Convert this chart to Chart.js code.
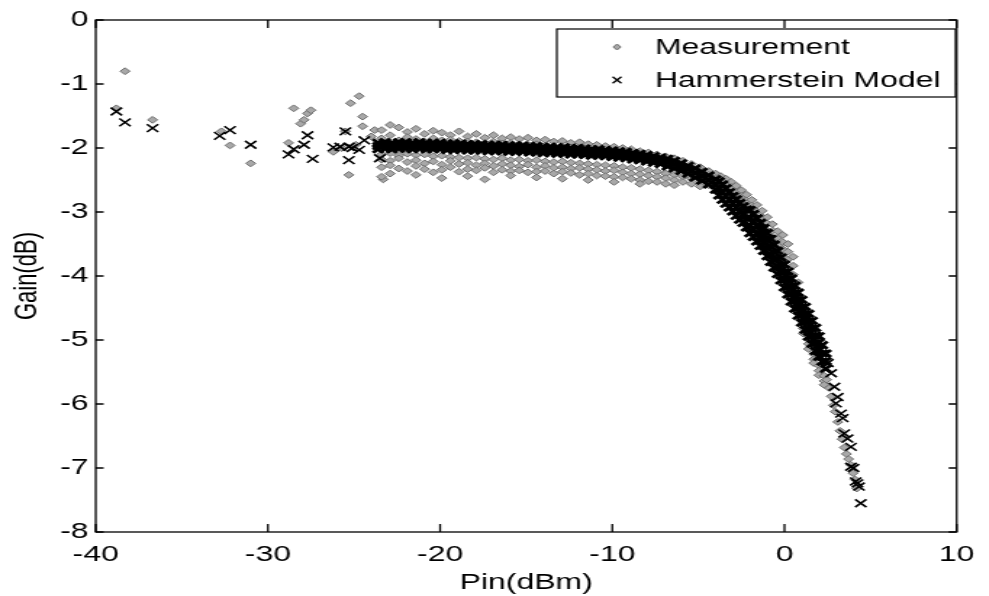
<!DOCTYPE html>
<html>
<head>
<meta charset="utf-8">
<script src="https://cdn.jsdelivr.net/npm/chart.js@4.4.1/dist/chart.umd.min.js"></script>
<style>
  html, body { margin: 0; padding: 0; background: #fff; overflow: hidden; }
  /* the scanned figure is stretched sideways, so the canvas is too */
  #wrap { width: 682px; height: 596px; transform: scaleX(1.45); transform-origin: 0 0; }
</style>
</head>
<body>
<div id="wrap"><canvas id="gainChart" width="682" height="596"></canvas></div>
<script>
// axes
const xTicks = [-40, -30, -20, -10, 0, 10];
const yTicks = [0, -1, -2, -3, -4, -5, -6, -7, -8];
const seriesNames = ['Measurement', 'Hammerstein Model'];

// Measurement: loose points at low input power
const measLooseX = [-38.3, -38.8, -36.7, -32.7, -32.2, -31.0, -28.5, -28.8, -28.1, -27.9, -27.7, -27.5,
  -26.2, -25.5, -25.3, -25.2, -24.7, -24.5, -24.5, -24.0, -23.8, -23.3, -24.9, -25.7];
const measLooseY = [-0.80, -1.38, -1.56, -1.74, -1.96, -2.24, -1.38, -1.92, -1.62, -1.56, -1.46, -1.41,
  -2.06, -1.74, -2.42, -1.30, -1.19, -1.51, -1.66, -1.82, -1.72, -2.49, -1.95, -2.00];

// Measurement: dense band, one column of gains per Pin value
const measBandX = [-23.4, -22.9, -22.4, -21.9, -21.4, -20.9, -20.4, -19.9, -19.4, -18.9, -18.4, -17.9, -17.4,
  -16.9, -16.4, -15.9, -15.4, -14.9, -14.4, -13.9, -13.4, -12.9, -12.4, -11.9, -11.4, -10.9, -10.4, -9.9,
  -9.4, -8.9, -8.4, -7.9, -7.4, -6.9, -6.4, -5.9, -5.4, -4.9, -4.4,
  -4.0, -3.7, -3.4, -3.1, -2.8, -2.5, -2.2, -1.9, -1.6, -1.3, -1.0, -0.7, -0.4, -0.1, 0.2, 0.5, 0.8,
  1.1, 1.4, 1.7, 2.0, 2.3];
const measBandY = [
  [-1.72, -1.85, -2.10, -2.18, -2.30, -2.45], [-1.64, -1.80, -2.08, -2.20, -2.27, -2.40],
  [-1.68, -1.88, -2.12, -2.16, -2.32], [-1.75, -1.83, -2.09, -2.22, -2.36],
  [-1.70, -1.86, -2.11, -2.19, -2.28, -2.42], [-1.78, -1.90, -2.10, -2.24, -2.33],
  [-1.73, -1.85, -2.13, -2.21, -2.38], [-1.76, -1.88, -2.12, -2.26, -2.34, -2.47],
  [-1.80, -1.87, -2.14, -2.20, -2.30], [-1.74, -1.89, -2.15, -2.25, -2.37],
  [-1.82, -1.90, -2.16, -2.23, -2.33, -2.44], [-1.78, -1.91, -2.15, -2.27, -2.35],
  [-1.84, -1.92, -2.17, -2.24, -2.31, -2.49], [-1.80, -1.90, -2.18, -2.28, -2.38],
  [-1.85, -1.93, -2.16, -2.25, -2.34], [-1.83, -1.92, -2.19, -2.27, -2.36, -2.43],
  [-1.86, -1.94, -2.18, -2.29, -2.35], [-1.84, -1.95, -2.20, -2.26, -2.38],
  [-1.88, -1.94, -2.19, -2.30, -2.37, -2.46], [-1.87, -1.96, -2.21, -2.28, -2.36],
  [-1.90, -1.97, -2.22, -2.31, -2.40], [-1.89, -1.97, -2.21, -2.30, -2.37, -2.48],
  [-1.92, -1.99, -2.23, -2.32, -2.39], [-1.91, -2.00, -2.24, -2.31, -2.42],
  [-1.94, -2.01, -2.25, -2.33, -2.40, -2.50], [-1.95, -2.02, -2.26, -2.34, -2.43],
  [-1.97, -2.03, -2.27, -2.36, -2.44], [-1.98, -2.04, -2.28, -2.35, -2.45, -2.53],
  [-2.00, -2.06, -2.30, -2.38, -2.46], [-2.02, -2.08, -2.31, -2.40, -2.48],
  [-2.05, -2.10, -2.33, -2.41, -2.50, -2.56], [-2.07, -2.12, -2.35, -2.43, -2.52],
  [-2.10, -2.15, -2.37, -2.45, -2.53], [-2.13, -2.18, -2.40, -2.47, -2.56],
  [-2.16, -2.22, -2.42, -2.50, -2.58], [-2.20, -2.26, -2.45, -2.53],
  [-2.25, -2.30, -2.48, -2.56], [-2.30, -2.35, -2.52, -2.60], [-2.36, -2.42, -2.58],
  [-2.40, -2.47, -2.55], [-2.44, -2.51, -2.60], [-2.48, -2.56, -2.64], [-2.53, -2.61, -2.70],
  [-2.59, -2.68, -2.77], [-2.66, -2.75, -2.84], [-2.73, -2.82, -2.92], [-2.81, -2.90, -3.00],
  [-2.89, -2.99, -3.09], [-2.98, -3.08, -3.19], [-3.08, -3.18, -3.29], [-3.19, -3.29, -3.40],
  [-3.30, -3.40, -3.52], [-3.36, -3.47, -3.58], [-3.50, -3.62, -3.74], [-3.70, -3.84, -3.98],
  [-4.10, -4.30, -4.45], [-4.72, -4.82, -4.90], [-4.98, -5.06, -5.14], [-5.22, -5.30, -5.36],
  [-5.40, -5.48, -5.55], [-5.56, -5.64, -5.70]
];
// Measurement: high power tail
const measTailX = [2.45, 2.6, 2.72, 2.85, 2.95, 3.1, 3.22, 3.35, 3.48, 3.6, 3.72, 3.85, 3.98, 4.1, 4.2];
const measTailY = [-5.62, -5.75, -5.88, -6.02, -6.12, -6.28, -6.42, -6.55, -6.68, -6.78, -6.86, -6.95, -7.08, -7.18, -7.32];

// Hammerstein model: loose points
const modelLooseX = [-38.8, -38.3, -36.7, -32.8, -32.2, -31.0, -28.8, -28.5, -27.9, -27.7, -27.4, -26.2,
  -25.8, -25.5, -25.3, -25.3, -25.1, -24.7, -24.4, -23.5];
const modelLooseY = [-1.43, -1.60, -1.69, -1.81, -1.72, -1.95, -2.10, -2.02, -1.95, -1.80, -2.17, -1.99,
  -1.98, -1.74, -1.98, -2.19, -2.00, -2.03, -1.88, -2.16];

// Hammerstein model: dense band
const modelBandX = [-23.6, -23.2, -22.8, -22.4, -22.0, -21.6, -21.2, -20.8, -20.4, -20.0, -19.6, -19.2,
  -18.8, -18.4, -18.0, -17.6, -17.2, -16.8, -16.4, -16.0, -15.6, -15.2, -14.8, -14.4, -14.0, -13.6,
  -13.2, -12.8, -12.4, -12.0, -11.6, -11.2, -10.8, -10.4, -10.0, -9.6, -9.2, -8.8, -8.4, -8.0, -7.6,
  -7.2, -6.8, -6.4, -6.0, -5.6, -5.2, -4.8, -4.4, -4.0,
  -3.8, -3.6, -3.4, -3.2, -3.0, -2.8, -2.6, -2.4, -2.2, -2.0, -1.8, -1.6, -1.4, -1.2, -1.0, -0.8,
  -0.6, -0.4, -0.2, 0.0, 0.2, 0.4, 0.6, 0.8, 1.0, 1.2, 1.4, 1.6, 1.8, 2.0, 2.2, 2.4];
const modelBandY = [
  [-1.92, -1.97, -2.02], [-1.91, -1.96, -2.01], [-1.92, -1.97, -2.02], [-1.91, -1.96, -2.01],
  [-1.91, -1.96, -2.01], [-1.92, -1.97, -2.02], [-1.91, -1.96, -2.01], [-1.92, -1.97, -2.02],
  [-1.92, -1.97, -2.02], [-1.92, -1.97, -2.02], [-1.93, -1.98, -2.03], [-1.93, -1.98, -2.03],
  [-1.93, -1.98, -2.03], [-1.94, -1.99, -2.04], [-1.94, -1.99, -2.04], [-1.94, -1.99, -2.04],
  [-1.95, -2.00, -2.05], [-1.95, -2.00, -2.05], [-1.95, -2.00, -2.05], [-1.96, -2.01, -2.06],
  [-1.96, -2.01, -2.06], [-1.96, -2.01, -2.06], [-1.97, -2.02, -2.07], [-1.97, -2.02, -2.07],
  [-1.98, -2.03, -2.08], [-1.98, -2.03, -2.08], [-1.99, -2.04, -2.09], [-1.99, -2.04, -2.09],
  [-2.00, -2.05, -2.10], [-2.00, -2.05, -2.10], [-2.01, -2.06, -2.11], [-2.02, -2.07, -2.12],
  [-2.02, -2.07, -2.12], [-2.03, -2.08, -2.13], [-2.04, -2.09, -2.14], [-2.05, -2.10, -2.15],
  [-2.06, -2.11, -2.16], [-2.08, -2.13, -2.18], [-2.09, -2.14, -2.19], [-2.11, -2.16, -2.21],
  [-2.13, -2.18, -2.23], [-2.15, -2.20, -2.25], [-2.17, -2.23, -2.29], [-2.20, -2.26, -2.32],
  [-2.24, -2.30, -2.36], [-2.28, -2.34, -2.40], [-2.32, -2.39, -2.46], [-2.37, -2.44, -2.51],
  [-2.43, -2.50, -2.57], [-2.49, -2.58, -2.65],
  [-2.52, -2.63, -2.74], [-2.57, -2.69, -2.81], [-2.63, -2.75, -2.87], [-2.69, -2.81, -2.93],
  [-2.75, -2.87, -2.99], [-2.80, -2.93, -3.06], [-2.86, -2.99, -3.12], [-2.91, -3.04, -3.17],
  [-2.96, -3.10, -3.24],
  [-2.97, -3.09, -3.21, -3.33], [-3.03, -3.15, -3.27, -3.39], [-3.10, -3.22, -3.34, -3.46],
  [-3.17, -3.29, -3.41, -3.53], [-3.25, -3.37, -3.49, -3.61], [-3.33, -3.45, -3.57, -3.69],
  [-3.42, -3.54, -3.66, -3.78], [-3.51, -3.63, -3.75, -3.87], [-3.61, -3.73, -3.85, -3.97],
  [-3.71, -3.83, -3.95, -4.07], [-3.82, -3.94, -4.06, -4.18], [-3.93, -4.05, -4.17, -4.29],
  [-4.04, -4.16, -4.28, -4.40], [-4.15, -4.27, -4.39, -4.51], [-4.26, -4.38, -4.50, -4.62],
  [-4.37, -4.49, -4.61, -4.73], [-4.48, -4.60, -4.72, -4.84], [-4.59, -4.71, -4.83, -4.95],
  [-4.70, -4.82, -4.94, -5.06], [-4.81, -4.93, -5.05, -5.17], [-4.94, -5.04, -5.16, -5.26],
  [-5.08, -5.21, -5.34], [-5.21, -5.33, -5.45]
];
// Hammerstein model: high power tail
const modelTailX = [2.52, 2.71, 2.90, 2.99, 3.09, 3.28, 3.38, 3.47, 3.66, 3.86, 3.86, 4.01, 4.14, 4.24, 4.33, 4.43];
const modelTailY = [-5.36, -5.52, -5.73, -5.99, -5.89, -6.15, -6.22, -6.46, -6.54, -6.67, -6.98, -7.00, -7.21, -7.24, -7.29, -7.55];

const FONT = '"Liberation Sans", Arial, Helvetica, sans-serif';

function toPoints(xs, ys) {
  return xs.map((x, i) => ({ x: x, y: ys[i] }));
}

// dense columns get a flag so they can be drawn heavier
function bandPoints(xs, cols) {
  const pts = [];
  xs.forEach((x, i) => cols[i].forEach(y => pts.push({ x: x, y: y, band: true })));
  return pts;
}

// box with inward ticks on all four sides, plus the boxed legend (MATLAB look)
const matlabFrame = {
  id: 'matlabFrame',
  afterDraw(chart) {
    const ctx = chart.ctx;
    const a = chart.chartArea;
    const sx = chart.scales.x, sy = chart.scales.y;
    ctx.save();
    ctx.strokeStyle = '#000';
    ctx.lineWidth = 1.3;
    ctx.strokeRect(a.left, a.top, a.right - a.left, a.bottom - a.top);
    ctx.beginPath();
    xTicks.forEach(v => {
      const px = sx.getPixelForValue(v);
      ctx.moveTo(px, a.bottom); ctx.lineTo(px, a.bottom - 8);
      ctx.moveTo(px, a.top); ctx.lineTo(px, a.top + 8);
    });
    yTicks.forEach(v => {
      const py = sy.getPixelForValue(v);
      ctx.moveTo(a.left, py); ctx.lineTo(a.left + 5.5, py);
      ctx.moveTo(a.right, py); ctx.lineTo(a.right - 5.5, py);
    });
    ctx.stroke();

    // legend
    const box = { l: 384, t: 29, r: 659, b: 97 };
    ctx.fillStyle = '#fff';
    ctx.fillRect(box.l, box.t, box.r - box.l, box.b - box.t);
    ctx.lineWidth = 1.2;
    ctx.strokeRect(box.l, box.t, box.r - box.l, box.b - box.t);
    const mx = 425.5, rows = [47, 80];
    // diamond
    ctx.beginPath();
    ctx.moveTo(mx, rows[0] - 3); ctx.lineTo(mx + 2.6, rows[0]);
    ctx.lineTo(mx, rows[0] + 3); ctx.lineTo(mx - 2.6, rows[0]); ctx.closePath();
    ctx.fillStyle = '#a8a8a8'; ctx.fill();
    ctx.strokeStyle = '#6e6e6e'; ctx.lineWidth = 1; ctx.stroke();
    // cross
    ctx.beginPath();
    ctx.moveTo(mx - 3, rows[1] - 3.3); ctx.lineTo(mx + 3, rows[1] + 3.3);
    ctx.moveTo(mx + 3, rows[1] - 3.3); ctx.lineTo(mx - 3, rows[1] + 3.3);
    ctx.strokeStyle = '#000'; ctx.lineWidth = 1.3; ctx.stroke();
    ctx.fillStyle = '#000';
    ctx.font = '22px ' + FONT;
    ctx.textBaseline = 'middle';
    ctx.textAlign = 'left';
    chart.data.datasets.forEach((ds, i) => ctx.fillText(ds.label, 451.7, rows[i] + 1));
    ctx.restore();
  }
};

const ctx = document.getElementById('gainChart').getContext('2d');
new Chart(ctx, {
  type: 'scatter',
  data: {
    datasets: [
      {
        label: seriesNames[0],
        data: toPoints(measLooseX, measLooseY)
          .concat(bandPoints(measBandX, measBandY))
          .concat(toPoints(measTailX, measTailY)),
        pointStyle: 'rectRot',
        pointRadius: 3.4,
        backgroundColor: '#a8a8a8',
        borderColor: '#6e6e6e',
        borderWidth: 1,
        order: 1
      },
      {
        label: seriesNames[1],
        data: toPoints(modelLooseX, modelLooseY)
          .concat(bandPoints(modelBandX, modelBandY))
          .concat(toPoints(modelTailX, modelTailY)),
        pointStyle: 'crossRot',
        pointRadius: c => (c.raw && c.raw.band ? 5 : 5.5),
        borderWidth: c => (c.raw && c.raw.band ? 2.8 : 1.6),
        borderColor: '#000',
        order: 0
      }
    ]
  },
  options: {
    responsive: false,
    animation: false,
    events: [],
    layout: { padding: { top: 20, right: 15, bottom: 0, left: 0 } },
    plugins: { legend: { display: false }, tooltip: { enabled: false } },
    scales: {
      x: {
        type: 'linear',
        min: -40, max: 10,
        afterFit: s => { s.height = 64; },
        afterBuildTicks: s => { s.ticks = xTicks.map(v => ({ value: v })); },
        grid: { display: false, drawTicks: false },
        border: { display: false },
        ticks: { color: '#000', padding: 10, font: { family: FONT, size: 22 } },
        title: { display: true, text: 'Pin(dBm)', color: '#000', padding: { top: 0, bottom: 0 }, font: { family: FONT, size: 22 } }
      },
      y: {
        type: 'linear',
        min: -8, max: 0,
        afterFit: s => { s.width = 66; },
        afterBuildTicks: s => { s.ticks = yTicks.map(v => ({ value: v })); },
        grid: { display: false, drawTicks: false },
        border: { display: false },
        ticks: { color: '#000', padding: 5, font: { family: FONT, size: 22 } },
        title: { display: true, text: 'Gain(dB)', color: '#000', padding: { top: 6, bottom: 0 }, font: { family: FONT, size: 22 } }
      }
    }
  },
  plugins: [matlabFrame]
});
</script>
</body>
</html>
